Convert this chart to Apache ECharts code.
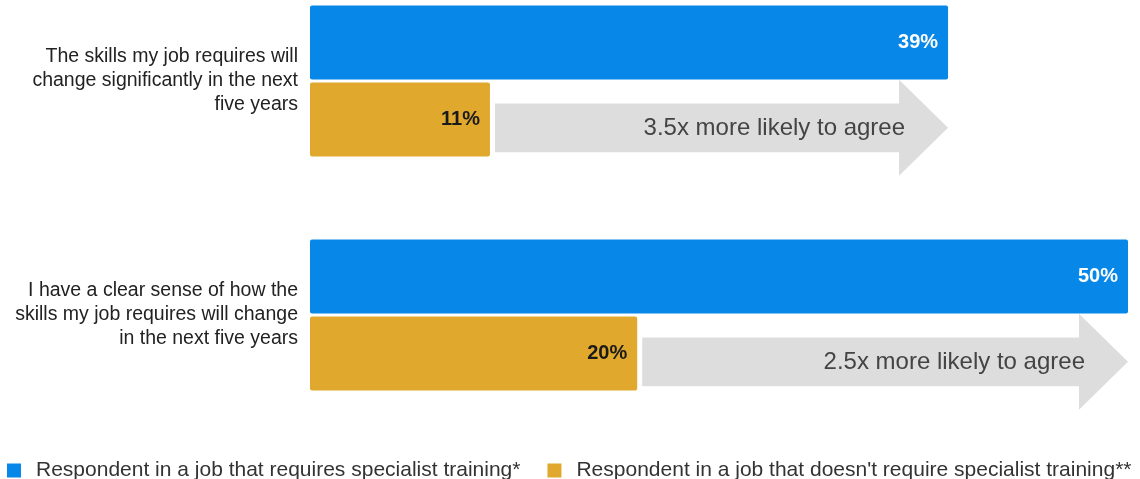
<!DOCTYPE html>
<html>
<head>
<meta charset="utf-8">
<script src="https://cdn.jsdelivr.net/npm/echarts@6/dist/echarts.min.js"></script>
<style>
  html, body { margin: 0; padding: 0; background: #fff; overflow: hidden; }
  /* the plot starts slightly above the page edge so the first band sits high */
  #chart { position: relative; top: -36px; width: 1140px; height: 515px; }
</style>
</head>
<body>
<div id="chart"></div>
<script>
// Survey statements (line breaks as laid out beside the bars)
const categories = [
  'The skills my job requires will\nchange significantly in the next\nfive years',
  'I have a clear sense of how the\nskills my job requires will change\nin the next five years'
];
const seriesNames = [
  'Respondent in a job that requires specialist training*',
  "Respondent in a job that doesn't require specialist training**"
];
const specialistValues = [39, 50];
const nonSpecialistValues = [11, 20];
const ratioLabels = ['3.5x more likely to agree', '2.5x more likely to agree'];

const BLUE = '#0788E9';
const GOLD = '#E0A92D';
const ARROW = '#DDDDDD';
const FONT = "'Liberation Sans', Arial, sans-serif";

// Arrow rows: [category index, from value, to value]
const arrowData = categories.map((c, i) => [i, nonSpecialistValues[i], specialistValues[i]]);

const chart = echarts.init(document.getElementById('chart'));

chart.setOption({
  animation: false,
  grid: { left: 310, right: 12, top: 0, bottom: 47 },
  xAxis: {
    type: 'value', min: 0, max: 50, show: false
  },
  yAxis: {
    type: 'category',
    data: categories,
    inverse: true,
    axisLine: { show: false },
    axisTick: { show: false },
    splitLine: { show: false },
    axisLabel: {
      margin: 12,
      fontFamily: FONT,
      fontSize: 19.5,
      lineHeight: 24,
      color: '#222',
      align: 'right'
    }
  },
  legend: {
    data: seriesNames,
    left: 2,
    top: 491,
    icon: 'rect',
    itemWidth: 14,
    itemHeight: 14,
    itemGap: 27,
    textStyle: {
      fontFamily: FONT,
      fontSize: 21,
      color: '#333',
      padding: [0, 0, 0, 10]
    }
  },
  series: [
    {
      name: seriesNames[0],
      type: 'bar',
      data: specialistValues,
      barWidth: 74,
      barGap: '4%',
      itemStyle: { color: BLUE, borderRadius: 2 },
      label: {
        show: true,
        position: 'insideRight',
        distance: 10,
        formatter: '{c}%',
        color: '#fff',
        fontWeight: 'bold',
        fontSize: 20,
        fontFamily: FONT
      },
      z: 3
    },
    {
      name: seriesNames[1],
      type: 'bar',
      data: nonSpecialistValues,
      barWidth: 74,
      barGap: '4%',
      itemStyle: { color: GOLD, borderRadius: 2 },
      label: {
        show: true,
        position: 'insideRight',
        distance: 10,
        formatter: '{c}%',
        color: '#1a1a1a',
        fontWeight: 'bold',
        fontSize: 20,
        fontFamily: FONT
      },
      z: 3
    },
    {
      name: 'ratio',
      type: 'custom',
      data: arrowData,
      encode: { x: [1, 2], y: 0 },
      z: 2,
      silent: true,
      renderItem: function (params, api) {
        const cat = api.value(0);
        const from = api.value(1);
        const to = api.value(2);
        const band = api.size([0, 1])[1];
        const p0 = api.coord([from, cat]);
        const p1 = api.coord([to, cat]);
        const cy = p0[1] + band * 0.2;
        const x0 = p0[0] + 5;
        const tip = p1[0];
        const headLen = 49;
        const bodyHalf = band * 0.104;
        const headHalf = band * 0.205;
        const base = tip - headLen;
        return {
          type: 'group',
          children: [
            {
              type: 'polygon',
              shape: {
                points: [
                  [x0, cy - bodyHalf], [base, cy - bodyHalf], [base, cy - headHalf],
                  [tip, cy], [base, cy + headHalf], [base, cy + bodyHalf], [x0, cy + bodyHalf]
                ]
              },
              style: { fill: ARROW }
            },
            {
              type: 'text',
              x: base + 6,
              y: cy + 1,
              style: {
                text: ratioLabels[params.dataIndex],
                align: 'right',
                verticalAlign: 'middle',
                fill: '#444',
                fontSize: 24,
                fontFamily: FONT
              }
            }
          ]
        };
      }
    }
  ]
});
</script>
</body>
</html>
